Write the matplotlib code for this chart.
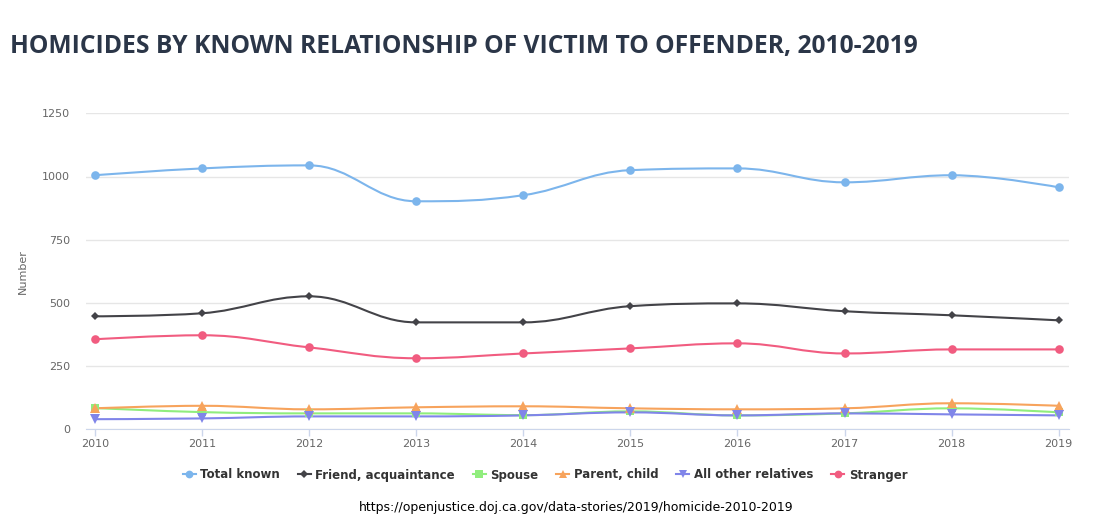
import matplotlib
matplotlib.use("Agg")
import matplotlib.pyplot as plt
from matplotlib.path import Path
from matplotlib.patches import PathPatch
from matplotlib.lines import Line2D

years = [2010, 2011, 2012, 2013, 2014, 2015, 2016, 2017, 2018, 2019]

total_known = [1005, 1032, 1044, 902, 926, 1025, 1032, 977, 1005, 957]
friend_acquaintance = [447, 459, 526, 423, 423, 487, 498, 467, 451, 431]
spouse = [84, 68, 63, 63, 56, 71, 55, 63, 83, 67]
parent_child = [83, 93, 79, 87, 91, 83, 79, 83, 103, 93]
other_relatives = [40, 43, 51, 51, 55, 67, 55, 63, 59, 55]
stranger = [356, 372, 324, 281, 300, 320, 340, 300, 316, 316]

series = [
    ("Total known", total_known, "#7cb5ec", "o", 6.2),
    ("Friend, acquaintance", friend_acquaintance, "#434348", "D", 4.3),
    ("Spouse", spouse, "#90ed7d", "s", 5.8),
    ("Parent, child", parent_child, "#f7a35c", "^", 6.5),
    ("All other relatives", other_relatives, "#8085e9", "v", 6.5),
    ("Stranger", stranger, "#f15c80", "o", 6.2),
]


def spline_path(xs, ys, smoothing=1.5):
    """Highcharts-style spline through the points as a bezier path."""
    n = len(xs)
    conts = [(None, None, None, None)] * n
    for i in range(1, n - 1):
        px, py = xs[i], ys[i]
        lx, ly = xs[i - 1], ys[i - 1]
        nx, ny = xs[i + 1], ys[i + 1]
        d = smoothing + 1
        lcx = (smoothing * px + lx) / d
        lcy = (smoothing * py + ly) / d
        rcx = (smoothing * px + nx) / d
        rcy = (smoothing * py + ny) / d
        corr = (rcy - lcy) * (rcx - px) / (rcx - lcx) + py - rcy
        lcy += corr
        rcy += corr
        if lcy > ly and lcy > py:
            lcy = max(ly, py)
            rcy = 2 * py - lcy
        elif lcy < ly and lcy < py:
            lcy = min(ly, py)
            rcy = 2 * py - lcy
        if rcy > ny and rcy > py:
            rcy = max(ny, py)
            lcy = 2 * py - rcy
        elif rcy < ny and rcy < py:
            rcy = min(ny, py)
            lcy = 2 * py - rcy
        conts[i] = (lcx, lcy, rcx, rcy)

    verts = [(xs[0], ys[0])]
    codes = [Path.MOVETO]
    for i in range(1, n):
        prev = conts[i - 1]
        cur = conts[i]
        c1 = (prev[2], prev[3]) if prev[2] is not None else (xs[i - 1], ys[i - 1])
        c2 = (cur[0], cur[1]) if cur[0] is not None else (xs[i], ys[i])
        verts += [c1, c2, (xs[i], ys[i])]
        codes += [Path.CURVE4] * 3
    return Path(verts, codes)


fig = plt.figure(figsize=(10.93, 5.30), dpi=100)
ax = fig.add_axes([86 / 1093, 1 - 429.3 / 530, (1069 - 86) / 1093, (429.3 - 113.3) / 530])

for name, vals, color, marker, ms in series:
    ax.add_patch(PathPatch(spline_path(years, vals), facecolor="none",
                           edgecolor=color, lw=1.5, zorder=3))
    ax.plot(years, vals, linestyle="none", marker=marker, color=color,
            markersize=ms, markeredgewidth=0, zorder=4)

ax.set_xlim(2010 - 9 / 107.1, 2019 + 10.3 / 107.1)
ax.set_ylim(0, 1250)
ax.set_yticks([0, 250, 500, 750, 1000, 1250])
ax.set_xticks(years)
ax.grid(axis="y", color="#e6e6e6", lw=1)
ax.set_axisbelow(True)
for side in ["top", "right", "left"]:
    ax.spines[side].set_visible(False)
ax.spines["bottom"].set_color("#ccd6eb")
ax.tick_params(axis="x", colors="#ccd6eb", length=5, width=1, labelcolor="#666666",
               labelsize=8, pad=2)
ax.tick_params(axis="y", length=0, labelcolor="#666666", labelsize=8, pad=11.5)
ax.set_ylabel("Number", color="#666666", fontsize=8)
ax.yaxis.set_label_coords(-0.059, 0.5)

fig.text(10 / 1093, 1 - 46 / 530, "HOMICIDES BY KNOWN RELATIONSHIP OF VICTIM TO OFFENDER, 2010-2019",
         fontsize=17.7, fontweight="bold", color="#2b3648", family="Open Sans", va="center")

handles = [Line2D([0], [0], color=c, lw=1.5, marker=m, markersize=ms * 0.9,
                  markeredgewidth=0) for _, _, c, m, ms in series]
labels = [s[0] for s in series]
fig.legend(handles, labels, loc="center", bbox_to_anchor=(545 / 1093, 1 - 475 / 530),
           ncol=6, frameon=False, handlelength=1.1, handletextpad=0.4, columnspacing=1.5,
           prop={"size": 8.5, "weight": "bold", "family": "DejaVu Sans"}, labelcolor="#333333")

fig.text(576 / 1093, 1 - 507 / 530, "https://openjustice.doj.ca.gov/data-stories/2019/homicide-2010-2019",
         fontsize=9, color="black", ha="center", va="center",
         family=["DejaVu Sans Condensed", "Liberation Sans Narrow", "DejaVu Sans"])

fig.savefig("out.png", dpi=100)
